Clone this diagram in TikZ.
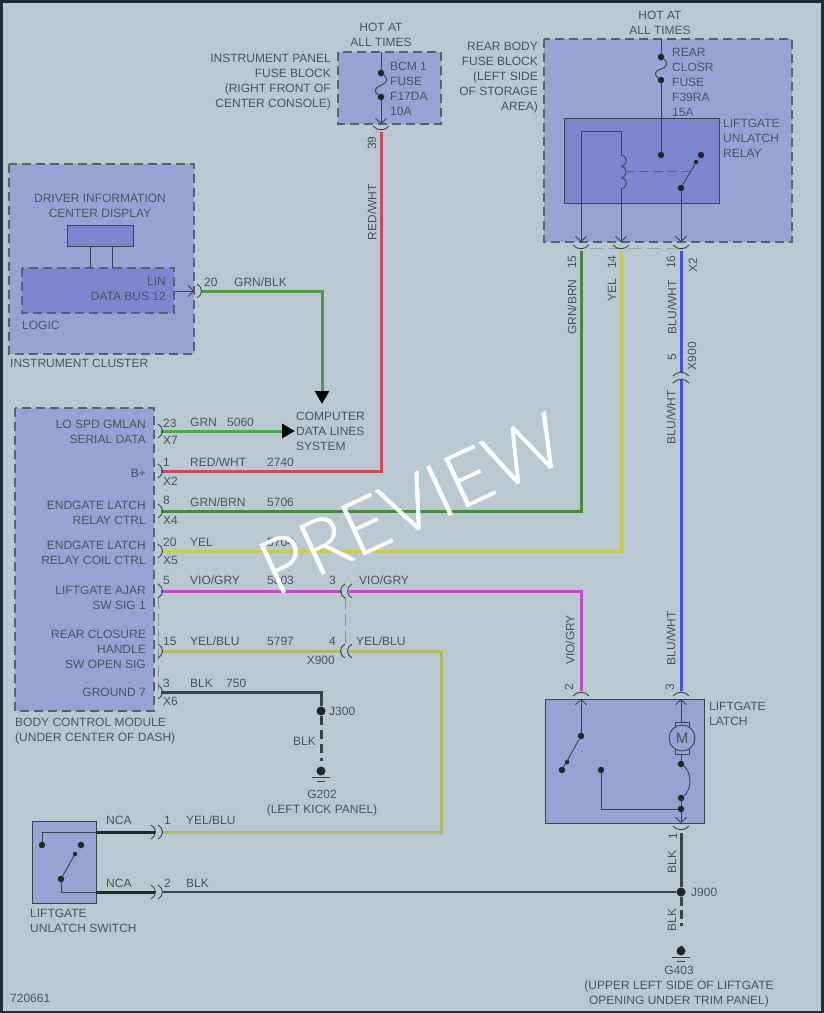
\documentclass[tikz,border=0pt]{standalone}
\usepackage{fontspec}
\setmainfont{Liberation Sans}
\newfontfamily\markfont[FakeBold=0.6]{Lato Light}
\usetikzlibrary{arrows.meta}
\definecolor{paper}{HTML}{B9C8D1}
\definecolor{frameink}{HTML}{1B2C3A}
\definecolor{boxblue}{HTML}{97A3D2}
\definecolor{innerblue}{HTML}{7C87D0}
\definecolor{ink}{HTML}{3A4450}
\definecolor{dashink}{HTML}{59636F}
\definecolor{txtgray}{HTML}{4A545F}
\definecolor{wgrnblk}{HTML}{4E9A45}
\definecolor{wgrn}{HTML}{4DAA50}
\definecolor{wgrnbrn}{HTML}{47893F}
\definecolor{wred}{HTML}{CC4B58}
\definecolor{wyel}{HTML}{C9CC4A}
\definecolor{wyelblu}{HTML}{B4B85E}
\definecolor{wvio}{HTML}{C24AC4}
\definecolor{wblu}{HTML}{4653D8}
\definecolor{wblk}{HTML}{3C444A}
\tikzset{
	dashbox/.style={draw=dashink, line width=1.3pt, dash pattern=on 9pt off 5pt},
	solidbox/.style={draw=ink, line width=0.9pt},
	thin wire/.style={draw=ink, line width=0.9pt},
	txtl/.style={anchor=north west, inner sep=0pt, yshift=4.4pt, align=left},
	txtr/.style={anchor=north east, inner sep=0pt, yshift=4.4pt, align=right},
	txtc/.style={anchor=north, inner sep=0pt, yshift=4.4pt, align=center},
	txtv/.style={anchor=center, inner sep=0pt, rotate=90},
	pindot/.style={circle, fill=black!85, inner sep=0pt, minimum size=6.5pt},
	smalldot/.style={circle, fill=black!85, inner sep=0pt, minimum size=4.5pt},
	bigdot/.style={circle, fill=black!85, inner sep=0pt, minimum size=9pt},
	wire/.style={line width=3pt, draw=#1},
	barb/.style={-{Straight Barb[length=5pt,width=11pt]}},
	bigtip/.style={-{Triangle[length=13pt,width=14pt,fill=black,color=black]}}
}

\begin{document}
\begin{tikzpicture}[x=1pt, y=-1pt,
	every node/.style={font=\fontsize{12}{15}\selectfont, text=txtgray}]
	% Page
	\useasboundingbox (0,0) rectangle (823,1013);
	\fill[paper] (0,0) rectangle (823,1013);
	\draw[frameink, line width=3pt] (1,1) rectangle (822,1012);

	% Boxes
	\draw[dashbox, fill=boxblue] (9,164) rectangle (194,354);
	\draw[solidbox, fill=innerblue] (67,225) rectangle (133,246);
	\draw[dashbox, fill=innerblue] (22,268) rectangle (174,313);
	\draw[dashbox, fill=boxblue] (15,408) rectangle (154,711);
	\draw[dashbox, fill=boxblue] (338,52) rectangle (441,124);
	\draw[dashbox, fill=boxblue] (544,39) rectangle (792,242);
	\draw[solidbox, fill=innerblue] (564,118) rectangle (719,203);
	\draw[solidbox, fill=boxblue] (545,699) rectangle (704,823);
	\draw[solidbox, fill=boxblue] (32,821) rectangle (96,903);

	% Wire end points
	\coordinate (lin) at (174,291);
	\coordinate (linpin) at (194,291);
	\coordinate (grnblk) at (202,291);
	\coordinate (cdlTop) at (322,404);
	\coordinate (grnS) at (161,431);
	\coordinate (cdlLeft) at (295,431);
	\coordinate (redS) at (161,471);
	\coordinate (redE) at (381,132);
	\coordinate (grnbrnS) at (161,511);
	\coordinate (grnbrnE) at (581,251);
	\coordinate (yelS) at (161,551);
	\coordinate (yelE) at (621,251);
	\coordinate (vioS) at (161,591);
	\coordinate (vioM) at (342,591);
	\coordinate (vioN) at (349,591);
	\coordinate (vioE) at (581,691);
	\coordinate (ybS) at (161,651);
	\coordinate (ybM) at (342,651);
	\coordinate (ybN) at (349,651);
	\coordinate (ybC) at (441,832);
	\coordinate (ybE) at (162,832);
	\coordinate (bluA) at (681,251);
	\coordinate (bluB) at (681,372);
	\coordinate (bluC) at (681,379);
	\coordinate (bluD) at (681,691);
	\coordinate (blkS) at (161,692);
	\coordinate (blkBot) at (681,833);
	\coordinate (swyb) at (155,832);
	\coordinate (swbk) at (155,892);
	\coordinate (blkJ) at (162,892);

	% Wires
	\draw[thin wire, barb] (lin) -- (linpin);
	\draw[wire=wgrnblk, bigtip] (grnblk) -| (cdlTop);
	\draw[wire=wgrn, bigtip] (grnS) -- (cdlLeft);
	\draw[wire=wred] (redS) -| (redE);
	\draw[wire=wgrnbrn] (grnbrnS) -| (grnbrnE);
	\draw[wire=wyel] (yelS) -| (yelE);
	\draw[wire=wvio] (vioS) -- (vioM);
	\draw[wire=wvio] (vioN) -| (vioE);
	\draw[wire=wyelblu] (ybS) -- (ybM);
	\draw[wire=wyelblu] (ybN) -| (ybC) -- (ybE);
	\draw[wire=wblu] (bluA) -- (bluB);
	\draw[wire=wblu] (bluC) -- (bluD);

	% Junctions and grounds
	\node[bigdot] (j300) at (321,711) {};
	\node[bigdot] (g202) at (321,771) {};
	\node[bigdot] (j900) at (681,892) {};
	\node[bigdot] (g403) at (681,951) {};
	\draw[wire=wblk] (blkS) -| (j300);
	\draw[wire=wblk, dash pattern=on 9pt off 5pt on 9pt off 5pt on 9pt off 5pt on 3pt off 20pt] (j300) -- (g202);
	\draw[wire=wblk] (blkBot) -- (j900);
	\draw[wire=wblk, dash pattern=on 9pt off 4pt on 9pt off 4pt on 3pt off 20pt] (j900) -- (g403);
	\draw[wire=wblk, line width=2.4pt] (blkJ) -- (j900);
	\draw[wire=black!85] (96,832) -- (swyb);
	\draw[wire=black!85] (96,892) -- (swbk);
	\foreach \x/\y in {321/777, 681/957} {
		\coordinate (gl\x) at (\x-9,\y);
		\coordinate (gr\x) at (\x+9,\y);
		\coordinate (hl\x) at (\x-4,\y+4);
		\coordinate (hr\x) at (\x+4,\y+4);
		\draw[thin wire] (gl\x) -- (gr\x);
		\draw[thin wire] (hl\x) -- (hr\x);
	}

	% Faint connector ties
	\draw[draw=dashink!70, line width=0.8pt, dash pattern=on 12pt off 5pt] (158,597) -- (158,690);
	\draw[draw=dashink!70, line width=0.8pt, dash pattern=on 12pt off 5pt] (345,597) -- (345,645);
	\draw[draw=dashink!60, line width=0.8pt, dash pattern=on 14pt off 5pt] (590,248) -- (674,248);

	% Pin arcs
	\foreach \x/\y in {158/431, 158/471, 158/511, 158/551, 158/591, 158/651, 158/692, 197/291, 151/832, 158/832, 151/892, 158/892} {
		\draw[thin wire] (\x,\y-7) .. controls (\x+6,\y-4) and (\x+6,\y+4) .. (\x,\y+7);
	}
	\foreach \x/\y in {345/591, 352/591, 345/651, 352/651} {
		\draw[thin wire] (\x,\y-7) .. controls (\x-6,\y-4) and (\x-6,\y+4) .. (\x,\y+7);
	}
	\foreach \x/\y in {381/126, 581/245, 621/245, 681/245, 681/826} {
		\draw[thin wire] (\x-8,\y) .. controls (\x-4,\y+5) and (\x+4,\y+5) .. (\x+8,\y);
	}
	\foreach \x/\y in {581/696, 681/696, 681/376, 681/383} {
		\draw[thin wire] (\x-8,\y) .. controls (\x-4,\y-5) and (\x+4,\y-5) .. (\x+8,\y);
	}

	% Display stems
	\foreach \x in {90,112} {
		\coordinate (st\x) at (\x,246);
		\coordinate (sb\x) at (\x,268);
		\draw[thin wire] (st\x) -- (sb\x);
	}

	% Instrument panel fuse
	\coordinate (ipTop) at (381,52);
	\coordinate (ipBot) at (381,124);
	\node[pindot] (ipA) at (381,73) {};
	\node[pindot] (ipB) at (381,97) {};
	\draw[thin wire] (ipTop) -- (ipA);
	\draw[thin wire] (ipA) .. controls (388,78) and (388,83) .. (381,85) .. controls (374,88) and (374,92) .. (ipB);
	\draw[thin wire, barb] (ipB) -- (ipBot);

	% Rear body fuse
	\coordinate (rbTop) at (661,39);
	\node[pindot] (rbA) at (661,57) {};
	\node[pindot] (rbB) at (661,80) {};
	\node[pindot] (rbC) at (661,155) {};
	\draw[thin wire] (rbTop) -- (rbA);
	\draw[thin wire] (rbA) .. controls (668,62) and (668,67) .. (661,69) .. controls (654,71) and (654,75) .. (rbB);
	\draw[thin wire] (rbB) -- (rbC);

	% Relay
	\coordinate (coilTop) at (621,155);
	\coordinate (coilBot) at (621,189);
	\coordinate (coilHead) at (621,131);
	\coordinate (relL) at (581,242);
	\coordinate (relM) at (621,242);
	\coordinate (relR) at (681,242);
	\coordinate (coilMid) at (625,171);
	\coordinate (bladeMid) at (691,171);
	\draw[thin wire, barb] (coilBot) -- (relM);
	\draw[thin wire, barb] (coilTop) -- (coilHead) -| (relL);
	\foreach \y in {155,166.3,177.6} {
		\draw[thin wire] (621,\y) .. controls (628,\y+1) and (628,\y+10) .. (621,\y+11.3);
	}
	\draw[draw=dashink, line width=0.8pt, dash pattern=on 10pt off 4pt] (coilMid) -- (bladeMid);
	\node[pindot] (relNO) at (701,155) {};
	\node[smalldot] (relTip) at (696,162) {};
	\node[pindot] (relPiv) at (681,188) {};
	\draw[thin wire] (relPiv) -- (relTip);
	\draw[thin wire, barb] (relPiv) -- (relR);

	% Latch
	\coordinate (ltL) at (581,699);
	\coordinate (ltR) at (681,699);
	\coordinate (ltB) at (681,823);
	\node[pindot] (laA) at (581,736) {};
	\node[smalldot] (laT) at (567,762) {};
	\node[pindot] (laB) at (562,770) {};
	\node[pindot] (laC) at (601,770) {};
	\node[pindot] (laD) at (681,764) {};
	\node[pindot] (laE) at (681,798) {};
	\node[pindot] (laF) at (681,809) {};
	\draw[thin wire, barb] (laA) -- (ltL);
	\draw[thin wire] (laA) -- (laB);
	\draw[thin wire] (laC) |- (laF);
	\draw[thin wire] (laD) .. controls (692,772) and (692,790) .. (laE);
	\draw[thin wire] (laE) -- (laF);
	\draw[thin wire, barb] (laF) -- (ltB);
	\draw[solidbox] (675,722) rectangle (689,754);
	\node[circle, draw=ink, line width=0.9pt, fill=boxblue, minimum size=26pt, inner sep=0pt, font=\fontsize{15}{15}\selectfont] (motor) at (682,738) {M};
	\coordinate (moTop) at (681,722);
	\coordinate (moBot) at (681,754);
	\draw[thin wire, barb] (moTop) -- (ltR);
	\draw[thin wire] (moBot) -- (laD);

	% Switch
	\node[pindot] (swA) at (42,845) {};
	\node[pindot] (swB) at (81,845) {};
	\node[smalldot] (swT) at (75,854) {};
	\node[pindot] (swC) at (61,879) {};
	\coordinate (swOutA) at (96,832);
	\coordinate (swOutB) at (96,892);
	\draw[thin wire] (swA) |- (swOutA);
	\draw[thin wire] (swC) |- (swOutB);
	\draw[thin wire] (swC) -- (swT);

	% Left aligned labels
	\foreach \x/\y/\t [count=\i] in {
		22/325/LOGIC, 10/363/INSTRUMENT CLUSTER, 15/722/{BODY CONTROL MODULE\\(UNDER CENTER OF DASH)},
		296/416/{COMPUTER\\DATA LINES\\SYSTEM}, 204/282/20, 234/282/{GRN/BLK},
		163/423/23, 163/440/X7, 190/422/GRN, 227/422/5060,
		163/462/1, 163/481/X2, 190/462/{RED/WHT}, 267/462/2740,
		163/500/8, 163/520/X4, 190/502/{GRN/BRN}, 267/502/5706,
		163/542/20, 163/560/X5, 190/542/YEL, 267/542/5704,
		163/580/5, 190/580/{VIO/GRY}, 267/580/5803, 359/580/{VIO/GRY}, 
		163/641/15, 190/641/{YEL/BLU}, 267/641/5797, 356/641/{YEL/BLU},
		163/683/3, 163/701/X6, 190/683/BLK, 226/683/750, 329/711/J300,
		390/66/{BCM 1\\FUSE\\F17DA\\10A}, 672/52/{REAR\\CLOSR\\FUSE\\F39RA\\15A},
		723/123/{LIFTGATE\\UNLATCH\\RELAY}, 709/706/{LIFTGATE\\LATCH}, 691/892/J900,
		106/820/NCA, 106/883/NCA, 164/820/1, 186/820/{YEL/BLU}, 164/883/2, 186/883/BLK,
		30/913/{LIFTGATE\\UNLATCH SWITCH}, 10/998/720661} {
		\node[txtl] (tl\i) at (\x,\y) {\t};
	}
	% Right aligned labels
	\foreach \x/\y/\t [count=\i] in {
		166/281/{LIN\\DATA BUS 12}, 146/424/{LO SPD GMLAN\\SERIAL DATA}, 146/473/B+,
		146/505/{ENDGATE LATCH\\RELAY CTRL}, 146/545/{ENDGATE LATCH\\RELAY COIL CTRL},
		146/590/{LIFTGATE AJAR\\SW SIG 1}, 146/634/{REAR CLOSURE\\HANDLE\\SW OPEN SIG},
		146/692/GROUND 7, 336/580/3, 336/641/4, 335/660/X900, 316/741/BLK,
		331/58/{INSTRUMENT PANEL\\FUSE BLOCK\\(RIGHT FRONT OF\\CENTER CONSOLE)},
		538/46/{REAR BODY\\FUSE BLOCK\\(LEFT SIDE\\OF STORAGE\\AREA)}} {
		\node[txtr] (tr\i) at (\x,\y) {\t};
	}
	% Centred labels
	\foreach \x/\y/\t [count=\i] in {
		100/198/{DRIVER INFORMATION\\CENTER DISPLAY}, 381/27/{HOT AT\\ALL TIMES},
		660/15/{HOT AT\\ALL TIMES}, 322/794/{G202\\(LEFT KICK PANEL)},
		679/970/{G403\\(UPPER LEFT SIDE OF LIFTGATE\\OPENING UNDER TRIM PANEL)}} {
		\node[txtc] (tc\i) at (\x,\y) {\t};
	}
	% Labels along the wires
	\foreach \x/\y/\t [count=\i] in {
		372/143/39, 372/212/{RED/WHT}, 572/262/15, 572/307/{GRN/BRN}, 612/262/14, 612/290/YEL,
		671/262/16, 672/307/{BLU/WHT}, 693/265/X2, 672/357/5, 692/356/X900, 671/417/{BLU/WHT},
		671/638/{BLU/WHT}, 570/640/{VIO/GRY}, 569/687/2, 670/687/3, 673/836/1, 672/862/BLK, 672/920/BLK} {
		\node[txtv] (tv\i) at (\x,\y) {\t};
	}

	% Watermark
	\node[anchor=south west, inner sep=0pt, rotate=25, text=white, font=\markfont\fontsize{76}{76}\selectfont] (mark) at (275,597) {PREVIEW};
\end{tikzpicture}
\end{document}
